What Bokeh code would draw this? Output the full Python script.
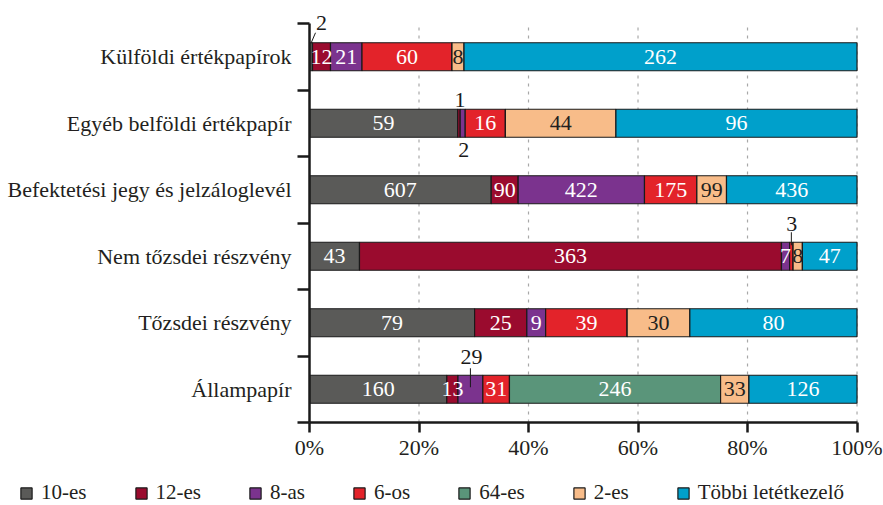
from bokeh.plotting import figure
from bokeh.layouts import column
from bokeh.models import ColumnDataSource, FixedTicker, Range1d, Legend, LegendItem
from bokeh.core.properties import value
from bokeh.embed import file_html
from bokeh.resources import INLINE

# ---------------- data ----------------
categories = ["Állampapír", "Tőzsdei részvény", "Nem tőzsdei részvény",
              "Befektetési jegy és jelzáloglevél", "Egyéb belföldi értékpapír",
              "Külföldi értékpapírok"]          # bottom -> top
series = ["10-es", "12-es", "8-as", "6-os", "64-es", "2-es", "Többi letétkezelő"]
v_10 = [160, 79, 43, 607, 59, 2]
v_12 = [13, 25, 363, 90, 1, 12]
v_8 = [29, 9, 7, 422, 2, 21]
v_6 = [31, 39, 3, 175, 16, 60]
v_64 = [246, 0, 0, 0, 0, 0]
v_2 = [33, 30, 8, 99, 44, 8]
v_tobbi = [126, 80, 47, 436, 96, 262]
tick_values = [0, 20, 40, 60, 80, 100]
tick_labels = ["0%", "20%", "40%", "60%", "80%", "100%"]

# ---------------- style ----------------
FONT = "Liberation Serif"
colors = ["#5a5a58", "#9a0b2e", "#7b338e", "#e3232a", "#5a957a", "#f8bc89", "#00a0cb"]
text_colors = ["white", "white", "white", "white", "white", "#231f20", "white"]
DARK = "#1a1a1a"

W = 883
H_MAIN = 475
H_LEG = 30
BORDER_LEFT = 309
BORDER_RIGHT = 21
FRAME_W = W - BORDER_LEFT - BORDER_RIGHT
X_END = 101.0
FRAME_H = 422.0
PX_Y = 66.5
Y_START = -0.5
Y_END = Y_START + FRAME_H / PX_Y
PX_X = FRAME_W / X_END

values = [v_10, v_12, v_8, v_6, v_64, v_2, v_tobbi]
n = len(categories)
totals = [sum(v[i] for v in values) for i in range(n)]
pct = [[v[i] / totals[i] * 100 for i in range(n)] for v in values]

keys = ["s%d" % k for k in range(len(series))]
src = ColumnDataSource(dict(y=list(range(n)), **{k: pc for k, pc in zip(keys, pct)}))

p = figure(width=W, height=H_MAIN, x_range=Range1d(0, X_END), y_range=Range1d(Y_START, Y_END),
           output_backend="svg", toolbar_location=None,
           min_border_left=BORDER_LEFT, min_border_right=BORDER_RIGHT,
           min_border_top=0, min_border_bottom=H_MAIN - int(FRAME_H))
p.frame_align = False
p.outline_line_color = None
p.xgrid.visible = False
p.ygrid.visible = False

# dashed vertical gridlines
gx = tick_values[1:]
p.segment(x0=gx, x1=gx, y0=[-0.5] * len(gx), y1=[n - 0.5] * len(gx),
          line_color="#a8a8a8", line_width=1.2, line_dash="3 5")

bar_style = dict(height=0.421, fill_color=colors, line_color=DARK, line_width=1.2)
renderers = p.hbar_stack(keys, y="y", source=src, **bar_style)

# callouts: (row, series, label dx px, label dy px, line [x0,y0,x1,y1] px or None)
callouts = [
    (5, 0, 10.5, -34, (0, -13.5, 4.5, -24)),
    (4, 1, 1.0, -23, None),
    (4, 2, 1.0, 27, None),
    (2, 3, 0.5, -32, (0, -24, 0, -11)),
    (0, 2, 1.0, -32, (0, -21, 0, -2)),
]
callout_keys = {(r, s) for r, s, *_ in callouts}

lx, ly, lt, lc = [], [], [], []
cx, cy, ct = [], [], []
sx0, sy0, sx1, sy1 = [], [], [], []
for i in range(n):
    left = 0.0
    for k in range(len(series)):
        w = pct[k][i]
        mid = left + w / 2
        left += w
        if values[k][i] == 0:
            continue
        if (i, k) in callout_keys:
            for r, s, dx, dy, ln in callouts:
                if (r, s) == (i, k):
                    cx.append(mid + dx / PX_X)
                    cy.append(i - dy / PX_Y)
                    ct.append(str(values[k][i]))
                    if ln:
                        sx0.append(mid + ln[0] / PX_X)
                        sy0.append(i - ln[1] / PX_Y)
                        sx1.append(mid + ln[2] / PX_X)
                        sy1.append(i - ln[3] / PX_Y)
            continue
        lx.append(mid)
        ly.append(i)
        lt.append(str(values[k][i]))
        lc.append(text_colors[k])

p.text(x=lx, y=ly, text=lt, text_color=lc, text_font=value(FONT), text_font_size="22px",
       text_align="center", text_baseline="middle")
p.text(x=cx, y=cy, text=ct, text_color=DARK, text_font=value(FONT), text_font_size="22px",
       text_align="center", text_baseline="middle")
p.segment(x0=sx0, y0=sy0, x1=sx1, y1=sy1, line_color=DARK, line_width=1)

# y axis
ya = p.yaxis[0]
ya.ticker = FixedTicker(ticks=list(range(n)), minor_ticks=[i - 0.5 for i in range(n + 1)])
ya.major_label_overrides = {i: c for i, c in enumerate(categories)}
ya.major_tick_out = 0
ya.major_tick_in = 0
ya.major_tick_line_color = None
ya.minor_tick_out = 12
ya.minor_tick_in = 0
ya.minor_tick_line_width = 2.5
ya.minor_tick_line_color = DARK
ya.axis_line_width = 2.5
ya.axis_line_color = DARK
ya.bounds = (-0.5, n - 0.5)
ya.major_label_standoff = 6
ya.major_label_text_font = FONT
ya.major_label_text_font_size = "22px"
ya.major_label_text_color = "#231f20"

# x axis
xa = p.xaxis[0]
xa.ticker = FixedTicker(ticks=tick_values)
xa.major_label_overrides = {v: t for v, t in zip(tick_values, tick_labels)}
xa.bounds = (0, 100)
xa.major_tick_out = 10
xa.major_tick_in = 0
xa.major_tick_line_width = 2.5
xa.major_tick_line_color = DARK
xa.minor_tick_line_color = None
xa.axis_line_width = 2.5
xa.axis_line_color = DARK
xa.major_label_standoff = 2
xa.major_label_text_font = FONT
xa.major_label_text_font_size = "22px"
xa.major_label_text_color = "#231f20"

# ---------------- legend strip (same stacked bars, kept out of view) ----------------
lf = figure(width=W, height=H_LEG, x_range=Range1d(0, 1), y_range=Range1d(100, 101),
            output_backend="svg", toolbar_location=None, min_border=0,
            x_axis_type=None, y_axis_type=None)
lf.frame_align = False
lf.outline_line_color = None
leg_renderers = lf.hbar_stack(keys, y="y", source=src, **bar_style)
legend = Legend(items=[LegendItem(label=s, renderers=[r]) for s, r in zip(series, leg_renderers)],
                orientation="horizontal", location=(19, 0),
                glyph_width=14, glyph_height=14, label_height=14, label_standoff=8, spacing=47,
                padding=0, margin=0, border_line_color=None, background_fill_alpha=0,
                label_text_font=FONT, label_text_font_size="21px", label_text_color="#231f20")
lf.add_layout(legend, "center")

layout = column(p, lf, spacing=0)
open("out.html", "w").write(file_html(layout, INLINE))
